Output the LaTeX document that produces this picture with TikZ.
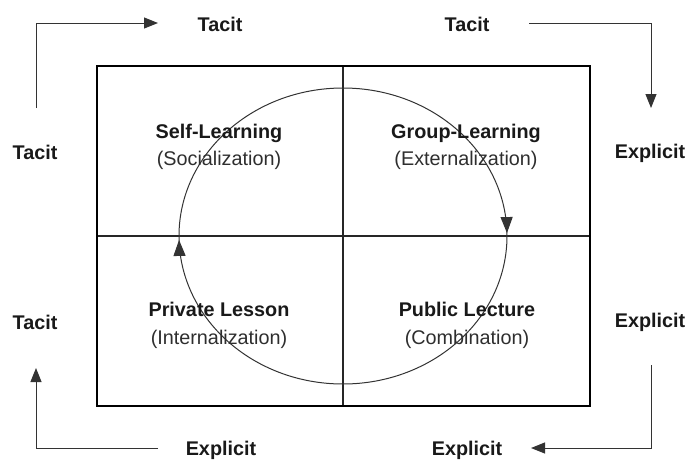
\documentclass[tikz,border=0pt]{standalone}
\usepackage{fontspec}
\setmainfont{Liberation Sans}
\usetikzlibrary{arrows.meta,decorations.markings}
\begin{document}
\begin{tikzpicture}[x=1pt,y=-1pt,
  lbl/.style={font=\fontsize{19.8}{22}\selectfont\bfseries, text=black!90, inner sep=0pt, anchor=base},
  sub/.style={font=\fontsize{19.8}{22}\selectfont, text=black!82, inner sep=0pt, anchor=base},
  flow/.style={draw=black!80, line width=1pt, -{Triangle[length=14pt,width=11pt]}},
  frame/.style={draw=black, line width=2.8pt},
  divider/.style={draw=black!85, line width=1.4pt},
  cyc/.style={draw=black!80, line width=1pt},
  tipmark/.style={postaction={decorate}, decoration={markings,
     mark=at position #1 with {\arrow{Triangle[length=16pt,width=12pt]}}}}]
\useasboundingbox (0,0) rectangle (688,459);

% frame and quadrants
\coordinate (tl) at (97,66);
\coordinate (br) at (590,406);
\coordinate (vt) at (343,66);
\coordinate (vb) at (343,406);
\coordinate (hl) at (97,236);
\coordinate (hr) at (590,236);
\draw[divider] (vt) -- (vb);
\draw[divider] (hl) -- (hr);
\draw[frame] (tl) rectangle (br);

% cycle
\coordinate (cl) at (179,236);
\coordinate (cr) at (507,236);
\draw[cyc, tipmark=0.994] (cl) arc[start angle=180, end angle=0, x radius=164pt, y radius=148pt];
\draw[cyc, tipmark=0.992] (cr) arc[start angle=0, end angle=-180, x radius=164pt, y radius=148pt];

% quadrant labels
\node[lbl] (sl) at (219,138) {Self-Learning};
\node[sub] (so) at (219,165) {(Socialization)};
\node[lbl] (gl) at (466,138) {Group-Learning};
\node[sub] (ex) at (466,165) {(Externalization)};
\node[lbl] (pl) at (219,316) {Private Lesson};
\node[sub] (in) at (219,344) {(Internalization)};
\node[lbl] (pu) at (467,316) {Public Lecture};
\node[sub] (co) at (467,344) {(Combination)};

% outer labels
\node[lbl] (t1) at (220,31) {Tacit};
\node[lbl] (t2) at (467,31) {Tacit};
\node[lbl] (t3) at (35,159) {Tacit};
\node[lbl] (t4) at (35,329) {Tacit};
\node[lbl] (e1) at (650,158) {Explicit};
\node[lbl] (e2) at (650,327) {Explicit};
\node[lbl] (e3) at (221,455) {Explicit};
\node[lbl] (e4) at (467,455) {Explicit};

% outer connectors
\coordinate (a1s) at (36,108);
\coordinate (a1c) at (36,23);
\coordinate (a1e) at (158,23);
\draw[flow] (a1s) -- (a1c) -- (a1e);
\coordinate (a2s) at (529,23);
\coordinate (a2c) at (651,23);
\coordinate (a2e) at (651,108);
\draw[flow] (a2s) -- (a2c) -- (a2e);
\coordinate (a3s) at (651,365);
\coordinate (a3c) at (651,448);
\coordinate (a3e) at (531,448);
\draw[flow] (a3s) -- (a3c) -- (a3e);
\coordinate (a4s) at (158,448);
\coordinate (a4c) at (36,448);
\coordinate (a4e) at (36,368);
\draw[flow] (a4s) -- (a4c) -- (a4e);
\end{tikzpicture}
\end{document}
